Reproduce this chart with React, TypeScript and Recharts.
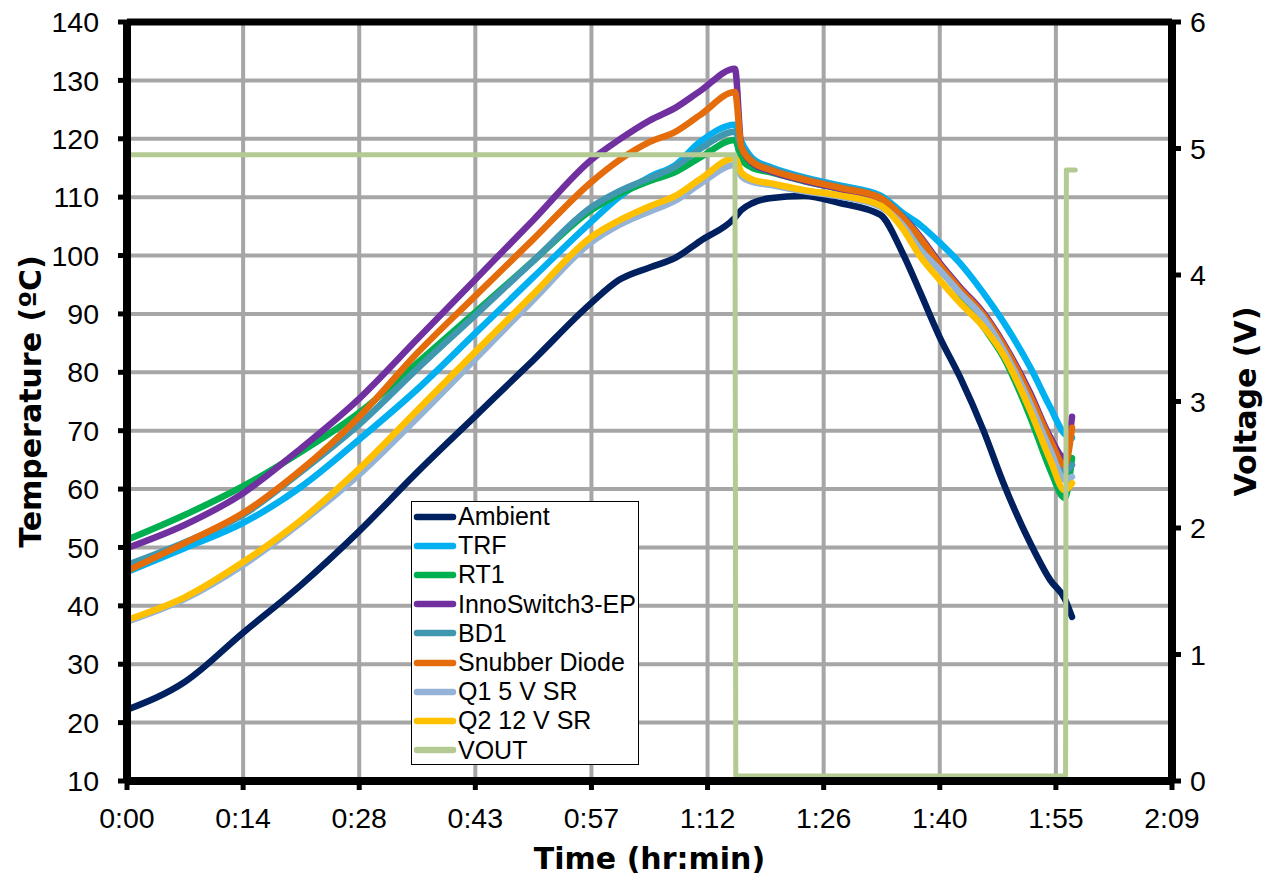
import { LineChart, Line, XAxis, YAxis, CartesianGrid, Legend, ReferenceLine } from 'recharts';

// time in minutes since start
const TIMES = [0, 7.2, 14.4, 21.6, 28.8, 36, 43.2, 50.4, 57.6, 61, 64.9, 68, 71.1, 75.4, 76.2, 77.6, 79.7, 84, 88.4, 93.4, 96.2, 98.4, 100.8, 103.3, 106.2, 108.7, 112, 114.5, 116.3, 117.2];

const AMBIENT = [22.2, 27, 35.4, 43.6, 52.8, 62.9, 72.5, 82.1, 91.9, 95.8, 98, 99.6, 102.5, 106.5, 107.8, 109, 109.8, 110.2, 109, 107, 100.4, 93.6, 86, 79.2, 70.1, 61, 50.8, 44.4, 41.2, 38.1];
const TRF = [45.8, 49.9, 54.2, 60.4, 68.5, 77.1, 86.7, 96.3, 105.8, 110, 113.5, 115.5, 119.5, 122.4, 119.5, 116.6, 115.2, 113.4, 112, 110.3, 107.3, 105.2, 102.2, 98.7, 93.6, 88.6, 80.9, 74, 69.4, 68.8];
const RT1 = [51.3, 55.6, 60.5, 66.4, 73.1, 81.6, 90.3, 99.1, 107.8, 110.5, 112.8, 114.3, 116.8, 119.8, 116.5, 115, 114.3, 112.7, 111.4, 109.6, 106.3, 102.6, 97.8, 93.5, 87.8, 82.6, 72.4, 63.3, 58.5, 65.3];
const INNO = [49.9, 53.9, 59.3, 67, 75.5, 85.7, 95.9, 106.1, 116.4, 119.8, 123.2, 125.3, 128.2, 132, 118.5, 115.8, 114.5, 112.8, 111.4, 109.6, 106.7, 103.2, 98.7, 94.6, 90.2, 85, 76.5, 68.9, 65.3, 72.4];
const BD1 = [47, 50.9, 55.6, 63, 71.1, 80.6, 89.8, 99.1, 108.3, 111, 113.3, 115.2, 118.3, 121.2, 118.7, 116.3, 115, 113.2, 111.8, 110, 106.6, 102.9, 98.2, 94, 89.4, 84, 75.3, 67.5, 63, 64.1];
const SNUBBER = [46, 50.8, 55.9, 63.3, 72.4, 83.3, 93.1, 102.8, 112.6, 116.3, 119.5, 121.2, 124.1, 128, 118.5, 116, 114.7, 113, 111.6, 109.9, 106.5, 102.9, 98.4, 94.3, 89.9, 84.7, 76, 68.4, 64.1, 70.5];
const Q1 = [37.3, 41.2, 47, 54.3, 62.5, 72.2, 82.3, 92.4, 102.3, 105.2, 107.6, 109.4, 112.3, 115.5, 113.6, 112.6, 112.1, 111, 110.1, 108.4, 105.2, 101, 97.5, 93.6, 89.3, 83.8, 74.7, 66.7, 61.6, 62.1];
const Q2 = [37.6, 41.5, 47.5, 54.7, 63.5, 73.5, 83.5, 93.4, 103.2, 106, 108.5, 110.2, 113.1, 116.7, 114.2, 113, 112.4, 111.2, 110.3, 108.6, 104.6, 99.8, 95.8, 91.9, 87.8, 83, 73.5, 65, 59.8, 61];

const VOUT_TIMES = [0, 75.4, 75.5, 116.4, 116.5, 117.6];
const VOUT = [4.95, 4.95, 0.04, 0.04, 4.83, 4.83];

const X_TICKS = [0, 14.4, 28.8, 43.2, 57.6, 72, 86.4, 100.8, 115.2, 129.6];
const TEMP_TICKS = [10, 20, 30, 40, 50, 60, 70, 80, 90, 100, 110, 120, 130, 140];
const VOLT_TICKS = [0, 1, 2, 3, 4, 5, 6];

const SERIES = [
  { key: 'ambient', name: 'Ambient', color: '#002060', values: AMBIENT },
  { key: 'trf', name: 'TRF', color: '#00B0F0', values: TRF },
  { key: 'rt1', name: 'RT1', color: '#00B050', values: RT1 },
  { key: 'inno', name: 'InnoSwitch3-EP', color: '#7030A0', values: INNO },
  { key: 'bd1', name: 'BD1', color: '#4097B0', values: BD1 },
  { key: 'snubber', name: 'Snubber Diode', color: '#E46C0A', values: SNUBBER },
  { key: 'q1', name: 'Q1 5 V SR', color: '#95B3D7', values: Q1 },
  { key: 'q2', name: 'Q2 12 V SR', color: '#FFC000', values: Q2 },
];
const VOUT_COLOR = '#B3CB92';

const rows = TIMES.map((t, i) => {
  const row: Record<string, number> = { t };
  SERIES.forEach((s) => (row[s.key] = s.values[i]));
  return row;
});
const voutRows = VOUT_TIMES.map((t, i) => ({ t, vout: VOUT[i] }));

const TICK_FONT = "'Liberation Sans', Arial, sans-serif";
const TITLE_FONT = "'DejaVu Sans', Verdana, sans-serif";

const fmtTime = (m: number) => {
  const h = Math.floor(m / 60 + 1e-9);
  const mm = Math.floor(m - h * 60 + 1e-6);
  return `${h}:${String(mm).padStart(2, '0')}`;
};

const titleStyle = { fontFamily: TITLE_FONT, fontSize: 30, fontWeight: 'bold' as const, fill: '#000' };

const tempTitle = (props: any) => {
  const vb = props.viewBox;
  const cx = vb.x + 10;
  const cy = vb.y + vb.height / 2;
  return (
    <text x={cx} y={cy} transform={`rotate(-90 ${cx} ${cy})`} textAnchor="middle" dominantBaseline="central" {...titleStyle}>
      Temperature (ºC)
    </text>
  );
};

const voltTitle = (props: any) => {
  const vb = props.viewBox;
  const cx = vb.x + 73;
  const cy = vb.y + vb.height / 2;
  return (
    <text x={cx} y={cy} transform={`rotate(-90 ${cx} ${cy})`} textAnchor="middle" dominantBaseline="central" {...titleStyle}>
      Voltage (V)
    </text>
  );
};

const timeTitle = (props: any) => {
  const vb = props.viewBox;
  return (
    <text x={vb.x + vb.width / 2} y={vb.y + 77} textAnchor="middle" dominantBaseline="central" {...titleStyle}>
      Time (hr:min)
    </text>
  );
};

const legendItems = [...SERIES.map((s) => ({ name: s.name, color: s.color })), { name: 'VOUT', color: VOUT_COLOR }];

const renderLegend = () => (
  <div
    style={{
      width: 228,
      height: 264,
      boxSizing: 'border-box',
      border: '1.5px solid #000',
      background: '#fff',
      fontFamily: TICK_FONT,
      fontSize: 25,
      color: '#000',
    }}
  >
    {legendItems.map((it) => (
      <div key={it.name} style={{ display: 'flex', alignItems: 'center', height: 29.2, whiteSpace: 'nowrap' }}>
        <svg width={46} height={12} style={{ flex: 'none' }}>
          <line x1={5} y1={6} x2={41} y2={6} stroke={it.color} strokeWidth={6.5} strokeLinecap="round" />
        </svg>
        <span style={{ lineHeight: 1 }}>{it.name}</span>
      </div>
    ))}
  </div>
);

const axisLine = { stroke: '#000', strokeWidth: 8 };
const tickLine = { stroke: '#000', strokeWidth: 5 };
const tickFont = { fontFamily: TICK_FONT, fontSize: 28.5, fill: '#000' };

// inner grid only, the black frame sits on the border
const GRID_H = TEMP_TICKS.slice(1, -1);
const GRID_V = X_TICKS.slice(1, -1);

export default function App() {
  return (
    <div style={{ position: 'absolute', left: 0, top: 0, background: '#fff' }}>
      <LineChart width={1270} height={884} data={rows} margin={{ top: 22, right: 20, left: 20, bottom: 33 }}>
        <CartesianGrid
          yAxisId="left"
          stroke="#A6A6A6"
          strokeWidth={4}
          horizontalValues={GRID_H}
          verticalValues={GRID_V}
        />
        <XAxis
          dataKey="t"
          type="number"
          domain={[0, 129.6]}
          ticks={X_TICKS}
          tickFormatter={fmtTime}
          interval={0}
          height={70}
          axisLine={axisLine}
          tickLine={tickLine}
          tickSize={9}
          tickMargin={18}
          tick={tickFont}
          label={timeTitle}
        />
        <YAxis
          yAxisId="left"
          domain={[10, 140]}
          ticks={TEMP_TICKS}
          interval={0}
          width={107}
          axisLine={axisLine}
          tickLine={tickLine}
          tickSize={9}
          tickMargin={19}
          tick={tickFont}
          label={tempTitle}
        />
        <YAxis
          yAxisId="right"
          orientation="right"
          domain={[0, 6]}
          ticks={VOLT_TICKS}
          interval={0}
          width={78}
          axisLine={axisLine}
          tickLine={tickLine}
          tickSize={9}
          tickMargin={9}
          tick={tickFont}
          label={voltTitle}
        />
        <ReferenceLine yAxisId="left" y={140} stroke="#000" strokeWidth={7} />
        {SERIES.map((s) => (
          <Line
            key={s.key}
            yAxisId="left"
            dataKey={s.key}
            name={s.name}
            type="monotone"
            stroke={s.color}
            strokeWidth={6.5}
            strokeLinecap="round"
            strokeLinejoin="round"
            dot={false}
            activeDot={false}
            isAnimationActive={false}
          />
        ))}
        <Line
          yAxisId="right"
          data={voutRows}
          dataKey="vout"
          name="VOUT"
          type="linear"
          stroke={VOUT_COLOR}
          strokeWidth={5}
          strokeLinecap="round"
          strokeLinejoin="round"
          dot={false}
          activeDot={false}
          isAnimationActive={false}
        />
        <Legend
          layout="vertical"
          align="center"
          verticalAlign="middle"
          content={renderLegend}
          wrapperStyle={{ left: 411, top: 501, width: 228, height: 264 }}
        />
      </LineChart>
    </div>
  );
}
